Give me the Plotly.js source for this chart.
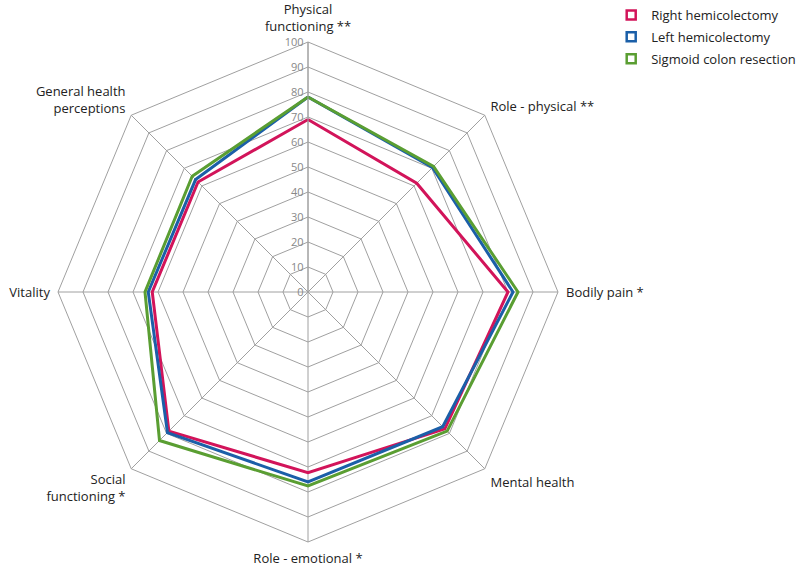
<!DOCTYPE html>
<html>
<head>
<meta charset="utf-8">
<script src="https://cdn.plot.ly/plotly-3.0.1.min.js"></script>
<style>html,body{margin:0;padding:0;background:#fff}#chart{width:800px;height:566px}</style>
</head>
<body>
<div id="chart"></div>
<script>
const categories = ["Physical<br>functioning **", "Role - physical **", "Bodily pain *", "Mental health", "Role - emotional *", "Social<br>functioning *", "Vitality", "General health<br>perceptions"];
const seriesNames = ["Right hemicolectomy", "Left hemicolectomy", "Sigmoid colon resection"];
const rightHemi = [69, 61.5, 80, 77.4, 72.3, 78.7, 62.3, 62.2];
const leftHemi = [78, 70.4, 82, 76.2, 76, 79.5, 63.9, 63.6];
const sigmoid = [78, 71, 84, 78.7, 77.6, 84, 65.2, 65.5];
const colors = ["#d2145a", "#1b5fa8", "#5a9e32"];

const close = a => a.concat([a[0]]);
const allSeries = [rightHemi, leftHemi, sigmoid];
const traces = [];
allSeries.forEach((vals, i) => {
  traces.push({
    type: "scatterpolar", mode: "lines",
    r: close(vals), theta: close(categories),
    line: {color: colors[i], width: 3},
    showlegend: false, hoverinfo: "skip"
  });
});
allSeries.forEach((vals, i) => {
  traces.push({
    type: "scatterpolar", mode: "markers",
    r: [null], theta: [categories[0]],
    name: seriesNames[i], legendgroup: "g" + i,
    marker: {symbol: "square-open", size: 9, color: colors[i], line: {color: colors[i], width: 2.5}},
    showlegend: true
  });
});

const layout = {
  width: 800, height: 566,
  margin: {l: 0, r: 0, t: 0, b: 0, autoexpand: false},
  paper_bgcolor: "#fff",
  font: {family: "Open Sans, sans-serif", size: 13, color: "#222"},
  showlegend: true,
  legend: {x: 0.764, y: 1.0, xanchor: "left", yanchor: "top", font: {size: 13, color: "#222"}, itemwidth: 30, tracegroupgap: 2},
  polar: {
    domain: {x: [58/800, 558/800], y: [24/566, 524/566]},
    gridshape: "linear",
    bgcolor: "#fff",
    angularaxis: {
      rotation: 90, direction: "clockwise",
      showline: true, linecolor: "#a0a0a0", linewidth: 1,
      gridcolor: "#a0a0a0", gridwidth: 1,
      ticks: "outside", ticklen: 5, tickcolor: "rgba(0,0,0,0)",
      tickfont: {size: 13, color: "#222"}
    },
    radialaxis: {
      range: [0, 100], dtick: 10, angle: 90, side: "counterclockwise", tickangle: 90,
      showline: true, linecolor: "#a0a0a0", linewidth: 1,
      gridcolor: "#a0a0a0", gridwidth: 1,
      ticks: "", tickfont: {size: 11, color: "#888888"}
    }
  }
};
Plotly.newPlot("chart", traces, layout, {displayModeBar: false, staticPlot: true});
</script>
</body>
</html>
